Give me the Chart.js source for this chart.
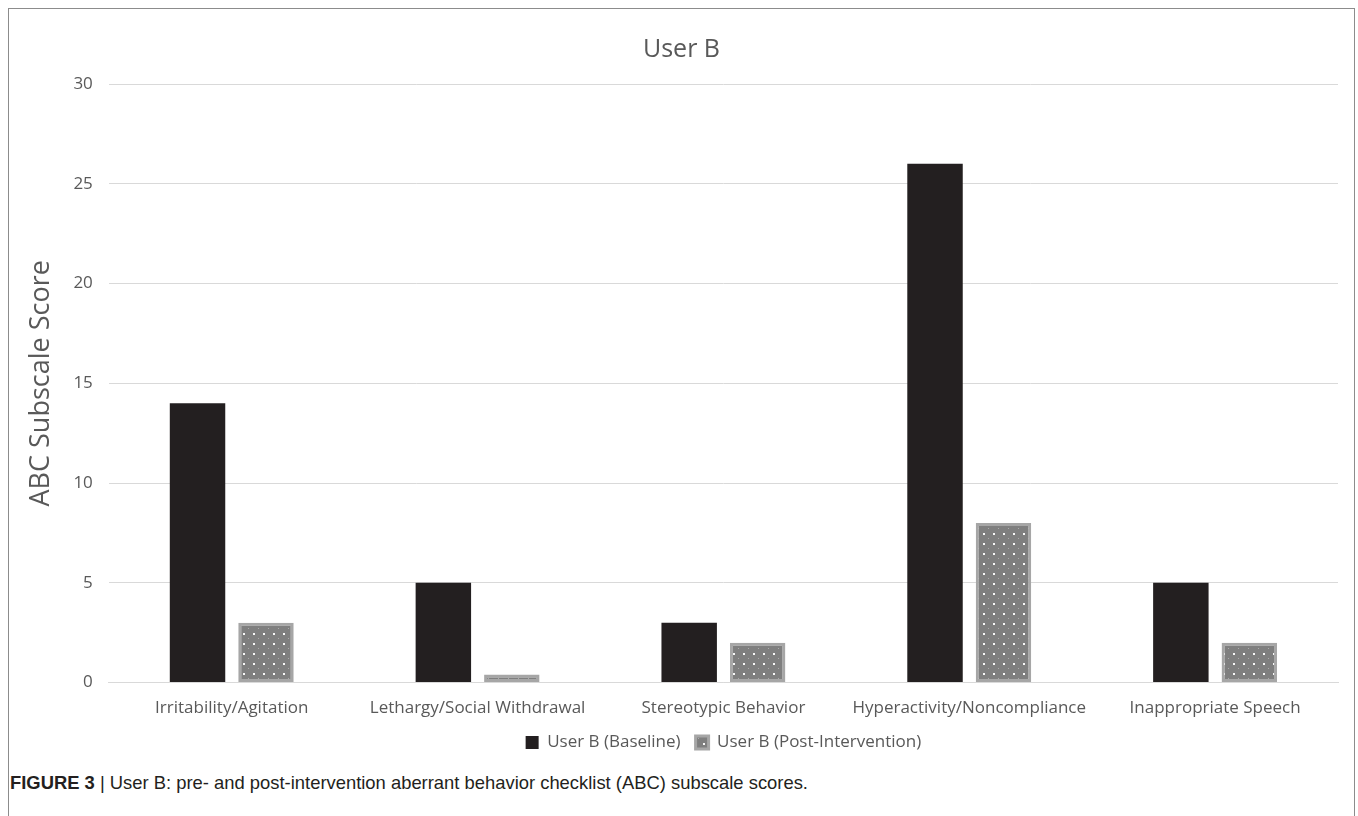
<!DOCTYPE html>
<html>
<head>
<meta charset="utf-8">
<script src="https://cdn.jsdelivr.net/npm/chart.js@4.4.0/dist/chart.umd.min.js"></script>
<style>
  html, body { margin: 0; padding: 0; background: #ffffff; }
  body { width: 1358px; height: 816px; position: relative; overflow: hidden; }
  #frame {
    position: absolute; left: 8px; top: 8px; width: 1345px; height: 820px;
    border-left: 1px solid #8c8c8c; border-top: 1px solid #8c8c8c; border-right: 1px solid #8c8c8c;
  }
  #wrap { position: absolute; left: 9px; top: 9px; width: 1345px; height: 752px; }
  #caption {
    position: absolute; left: 10px; top: 772px;
    font-family: "Liberation Sans", Arial, sans-serif;
    font-size: 18.4px; color: #231f20; white-space: nowrap;
  }
  #caption b { font-weight: bold; }
</style>
</head>
<body>
<div id="frame"></div>
<div id="wrap"><canvas id="chart"></canvas></div>
<div id="caption"><b>FIGURE 3</b> | User B: pre- and post-intervention aberrant behavior checklist (ABC) subscale scores.</div>
<script>
const categories = [
  "Irritability/Agitation",
  "Lethargy/Social Withdrawal",
  "Stereotypic Behavior",
  "Hyperactivity/Noncompliance",
  "Inappropriate Speech"
];
const baselineScores = [14, 5, 3, 26, 5];
const postScores = [3, 0, 2, 8, 2];
const yTicks = [0, 5, 10, 15, 20, 25, 30];

// dotted fill for the post-intervention bars
function dotPattern() {
  const c = document.createElement('canvas');
  c.width = 10; c.height = 10;
  const g = c.getContext('2d');
  g.fillStyle = '#7f7f7f';
  g.fillRect(0, 0, 10, 10);
  g.fillStyle = 'rgba(255,255,255,0.95)';
  g.fillRect(4, 4, 2, 2);
  g.fillStyle = 'rgba(255,255,255,0.35)';
  g.fillRect(9, 9, 1, 1);
  return g.createPattern(c, 'repeat');
}
const postFill = dotPattern();

const textGrey = '#595959';
const font = "'Open Sans', 'DejaVu Sans', sans-serif";

// legend items are spaced LEGEND_GAP apart horizontally, but the legend box
// keeps a tight top margin so it sits close under the category labels
const LEGEND_GAP = 15;
const LEGEND_TRIM = 14;
const compactLegend = {
  id: 'compactLegend',
  afterInit(chart) {
    const lg = chart.legend;
    const fit = lg.fit;
    lg.fit = function () { fit.call(this); this.height -= LEGEND_TRIM; };
  },
  afterLayout(chart) {
    chart.legend.top -= LEGEND_TRIM;
  }
};

new Chart(document.getElementById('chart'), {
  type: 'bar',
  data: {
    labels: categories,
    datasets: [
      {
        label: 'User B (Baseline)',
        data: baselineScores,
        backgroundColor: '#231f20',
        borderWidth: 0,
        categoryPercentage: 0.557,
        barPercentage: 0.81
      },
      {
        label: 'User B (Post-Intervention)',
        data: postScores,
        backgroundColor: postFill,
        borderColor: '#a6a6a6',
        borderWidth: 3,
        borderSkipped: false,
        minBarLength: 8,
        categoryPercentage: 0.557,
        barPercentage: 0.81
      }
    ]
  },
  options: {
    responsive: true,
    maintainAspectRatio: false,
    animation: false,
    layout: { padding: { left: 16, right: 16, top: 0, bottom: 0 } },
    plugins: {
      title: {
        display: true,
        text: 'User B',
        color: textGrey,
        font: { family: font, size: 25, weight: 'normal' },
        padding: { top: 26, bottom: 19 }
      },
      legend: {
        position: 'bottom',
        fullSize: false,
        labels: {
          color: textGrey,
          font: { family: font, size: 17 },
          boxWidth: 13,
          boxHeight: 13,
          padding: LEGEND_GAP
        }
      },
      tooltip: { enabled: false }
    },
    scales: {
      x: {
        grid: { display: false, drawTicks: false },
        border: { display: true, color: '#d9d9d9', width: 1 },
        ticks: { color: textGrey, font: { family: font, size: 17 }, padding: 15 }
      },
      y: {
        min: 0,
        max: 30,
        afterBuildTicks: (axis) => { axis.ticks = yTicks.map(v => ({ value: v })); },
        grid: { color: '#d9d9d9', drawTicks: false },
        border: { display: false },
        ticks: { color: textGrey, font: { family: font, size: 17 }, padding: 16 },
        title: {
          display: true,
          text: 'ABC Subscale Score',
          color: textGrey,
          font: { family: font, size: 27, weight: 'normal' },
          padding: { top: 0, bottom: 0 }
        }
      }
    }
  },
  plugins: [compactLegend]
});
</script>
</body>
</html>
